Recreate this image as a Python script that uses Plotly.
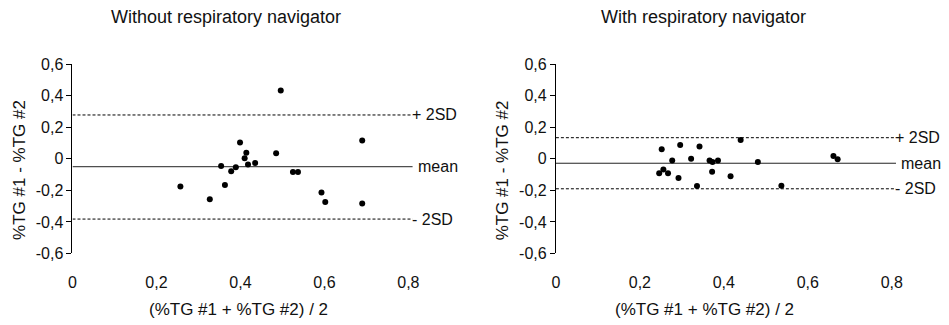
import plotly.graph_objects as go

# ---- data ----
left_x = [0.257, 0.327, 0.354, 0.363, 0.378, 0.389, 0.399, 0.410, 0.414, 0.418,
          0.435, 0.485, 0.496, 0.525, 0.537, 0.593, 0.602, 0.690, 0.690]
left_y = [-0.176, -0.256, -0.046, -0.166, -0.078, -0.054, 0.104, 0.004, 0.038, -0.036,
          -0.026, 0.036, 0.434, -0.084, -0.084, -0.214, -0.274, 0.116, -0.284]
right_x = [0.246, 0.252, 0.256, 0.267, 0.277, 0.292, 0.296, 0.322, 0.336, 0.342,
           0.366, 0.373, 0.372, 0.386, 0.416, 0.440, 0.481, 0.537, 0.661, 0.671]
right_y = [-0.092, 0.060, -0.068, -0.092, -0.010, -0.122, 0.088, 0.000, -0.172, 0.078,
           -0.010, -0.020, -0.082, -0.010, -0.110, 0.120, -0.020, -0.170, 0.018, -0.002]

# mean, +2SD, -2SD
left_stats = [-0.050, 0.278, -0.382]
right_stats = [-0.028, 0.134, -0.190]
stat_labels = ["mean", "+ 2SD", "- 2SD"]
line_extent = [0.0, 0.81]

titles = ["Without respiratory navigator", "With respiratory navigator"]
x_title = "(%TG #1 + %TG #2) / 2"
y_title = "%TG #1 - %TG #2"

x_tickvals = [0, 0.2, 0.4, 0.6, 0.8]
x_ticktext = ["0", "0,2", "0,4", "0,6", "0,8"]
y_tickvals = [-0.6, -0.4, -0.2, 0, 0.2, 0.4, 0.6]
y_ticktext = ["-0,6", "-0,4", "-0,2", "0", "0,2", "0,4", "0,6"]

FONT = "Liberation Sans, Arial, Helvetica, sans-serif"
W, H = 949, 325

fig = go.Figure()

panels = [
    dict(x=left_x, y=left_y, stats=left_stats, xa="x", ya="y"),
    dict(x=right_x, y=right_y, stats=right_stats, xa="x2", ya="y2"),
]

for p in panels:
    for i, v in enumerate(p["stats"]):
        fig.add_trace(go.Scatter(
            x=line_extent, y=[v, v], mode="lines",
            line=dict(color="#222222" if i == 0 else "#000000", width=1,
                      dash="solid" if i == 0 else "3px,2px"),
            xaxis=p["xa"], yaxis=p["ya"], showlegend=False, hoverinfo="skip"))
    fig.add_trace(go.Scatter(
        x=p["x"], y=p["y"], mode="markers",
        marker=dict(color="black", size=6),
        xaxis=p["xa"], yaxis=p["ya"], showlegend=False, cliponaxis=False))

# pixel geometry
ppu = 423.0
xr = [0, 0.82]
left0, right0 = 69, 556
ytop, ybot = 59.3, 259.0

def dom(x0):
    return [x0 / W, (x0 + ppu * (xr[1] - xr[0])) / W]

ydom = [(H - ybot) / H, (H - ytop) / H]

xax = dict(range=xr, tickvals=x_tickvals, ticktext=x_ticktext, showgrid=False,
           zeroline=False, showline=False, ticks="outside", ticklen=14,
           tickcolor="rgba(0,0,0,0)", tickfont=dict(size=16, color="#111"))
yax = dict(range=[-0.6, 0.6], tickvals=y_tickvals, ticktext=y_ticktext, showgrid=False,
           zeroline=False, showline=True, linecolor="black", linewidth=1,
           ticks="outside", ticklen=5, tickcolor="black", tickwidth=1,
           tickfont=dict(size=16, color="#111"))

fig.update_layout(
    width=W, height=H, margin=dict(l=0, r=0, t=0, b=0),
    paper_bgcolor="white", plot_bgcolor="white",
    font=dict(family=FONT, color="#111"),
    xaxis=dict(xax, domain=dom(left0), anchor="y"),
    yaxis=dict(yax, domain=ydom, anchor="x"),
    xaxis2=dict(xax, domain=dom(right0), anchor="y2"),
    yaxis2=dict(yax, domain=ydom, anchor="x2"),
)

title_cx = [224, 705]
xtitle_cx = [236, 706]

annotations = []
for p, t, x0, tcx, xcx in zip(panels, titles, [left0, right0], title_cx, xtitle_cx):
    annotations.append(dict(text=t, x=tcx / W, y=(H - 10) / H, xref="paper", yref="paper",
                            showarrow=False, font=dict(size=18), xanchor="center", yanchor="middle"))
    annotations.append(dict(text=x_title, x=xcx / W, y=(H - 318) / H, xref="paper", yref="paper",
                            showarrow=False, font=dict(size=17), xanchor="center", yanchor="middle"))
    annotations.append(dict(text=y_title, x=(x0 - 54) / W, y=(H - 171) / H, xref="paper",
                            yref="paper", textangle=-90, showarrow=False, font=dict(size=17),
                            xanchor="center", yanchor="middle"))
    for i, (v, lab) in enumerate(zip(p["stats"], stat_labels)):
        annotations.append(dict(text=lab, x=line_extent[1], y=v, xref=p["xa"], yref=p["ya"],
                                showarrow=False, font=dict(size=16),
                                xanchor="left", yanchor="middle",
                                xshift=3 if i == 0 else -3))

fig.update_layout(annotations=annotations)

fig.write_html("out.html")
